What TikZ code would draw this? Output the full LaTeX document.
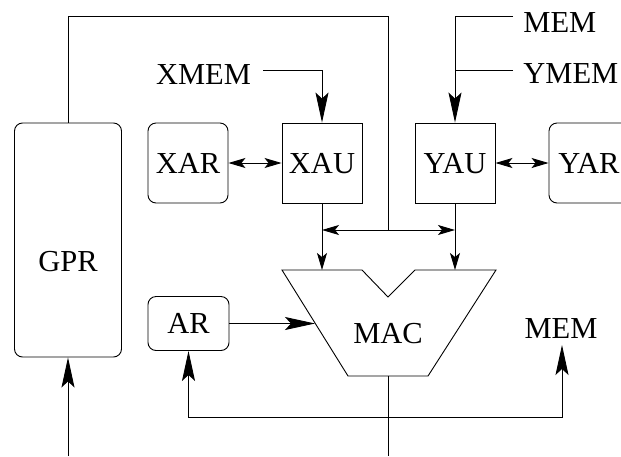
\documentclass[tikz,border=0pt]{standalone}
\usepackage{fontspec}
\setmainfont{Liberation Serif}
\usetikzlibrary{arrows.meta}
\begin{document}
\begin{tikzpicture}[x=1pt,y=-1pt,
  every path/.style={line width=0.9pt},
  lbl/.style={inner sep=0pt,text height=20pt,text depth=0pt,font=\fontsize{30.5}{36}\selectfont},
  sbox/.style={draw,lbl,minimum width=80pt,minimum height=80pt},
  rbox/.style={sbox,rounded corners=8pt},
  big/.tip={Stealth[length=30pt,width=13pt,inset=6pt]},
  small/.tip={Stealth[length=17pt,width=10pt,inset=4pt]}]
\useasboundingbox (0,0) rectangle (621,456);
% boxes
\node[rbox,minimum width=107pt,minimum height=234pt] (gpr) at (68,240) {};
\node[lbl] (gprt) at (68,261) {GPR};
\node[rbox] (xar) at (188,163) {XAR};
\node[sbox] (xau) at (322,163) {XAU};
\node[sbox] (yau) at (455,163) {YAU};
\node[rbox] (yar) at (589,163) {YAR};
\node[rbox,minimum width=81pt,minimum height=54pt] (ar) at (188.5,323.5) {AR};
\node[lbl] (mac) at (388,333) {MAC};
% labels
\node[lbl] (xmem) at (203.5,74) {XMEM};
\node[lbl,anchor=west] (memtop) at (523,22) {MEM};
\node[lbl,anchor=west] (ymem) at (523,73) {YMEM};
\node[lbl] (memr) at (561,328) {MEM};
% MAC shape
\draw (282,270) coordinate (mtl) -- (362,270) -- (388,297) -- (415,270) -- (496,270)
  -- (428,376) -- (348,376) -- cycle;
\coordinate (m1) at (322,270);
\coordinate (m2) at (455,270);
\coordinate (m3) at (315,323.5);
\coordinate (mb) at (388,376);
% connectors
\coordinate (t1) at (68,16);
\coordinate (t2) at (388,16);
\coordinate (bj) at (388,230);
\coordinate (bl) at (322,230);
\coordinate (br) at (455,230);
\draw (gpr.north) -- (t1) -- (t2) -- (bj);
\draw[small-small] (bl) -- (br);
\coordinate (xm1) at (263,70);
\coordinate (xm2) at (322,70);
\draw[-big] (xm1) -- (xm2) -- (xau.north);
\coordinate (mt1) at (513,16);
\coordinate (mt2) at (455,16);
\coordinate (ym1) at (513,70);
\coordinate (ym2) at (455,70);
\draw[-big] (mt1) -- (mt2) -- (yau.north);
\draw (ym1) -- (ym2);
\draw[small-small] (xar) -- (xau);
\draw[small-small] (yau) -- (yar);
\draw[-small] (xau.south) -- (m1);
\draw[-small] (yau.south) -- (m2);
\draw[-big] (ar.east) -- (m3);
\coordinate (bot) at (388,456);
\draw (mb) -- (bot);
\coordinate (b1) at (188.5,417);
\coordinate (b2) at (562,417);
\coordinate (mr) at (562,345);
\draw[big-big] (ar.south) -- (b1) -- (b2) -- (mr);
\coordinate (gb) at (68,456);
\draw[-big] (gb) -- (gpr.south);
\end{tikzpicture}
\end{document}
